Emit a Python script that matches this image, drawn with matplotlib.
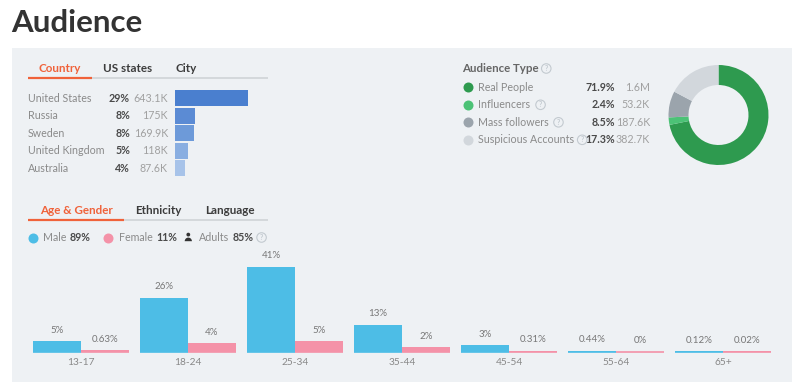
import matplotlib
matplotlib.use("Agg")
import matplotlib.pyplot as plt
from matplotlib.patches import Rectangle, Circle, Wedge
from matplotlib.transforms import blended_transform_factory

plt.rcParams['font.family'] = ['Lato', 'DejaVu Sans']

# ---------------- data ----------------
countries = ["United States", "Russia", "Sweden", "United Kingdom", "Australia"]
country_pct = ["29%", "8%", "8%", "5%", "4%"]
country_counts = [643.1, 175.0, 169.9, 118.0, 87.6]  # thousands
country_count_labels = ["643.1K", "175K", "169.9K", "118K", "87.6K"]

audience_types = ["Real People", "Influencers", "Mass followers", "Suspicious Accounts"]
audience_pct = [71.9, 2.4, 8.5, 17.3]
audience_counts = ["1.6M", "53.2K", "187.6K", "382.7K"]

age_groups = ["13-17", "18-24", "25-34", "35-44", "45-54", "55-64", "65+"]
male_pct = [5, 26, 41, 13, 3, 0.44, 0.12]
female_pct = [0.63, 4, 5, 2, 0.31, 0, 0.02]

country_tabs = ["Country", "US states", "City"]
age_tabs = ["Age & Gender", "Ethnicity", "Language"]

# ---------------- style ----------------
W, H = 800, 387
PANEL = "#eef1f4"
ORANGE = "#f0623a"
DARK = "#4a4a4a"
GREY = "#8a8a8a"
LIGHT = "#a0a0a0"
country_colors = ["#4a7fcf", "#5b8bd4", "#6d9ad9", "#89aee1", "#a7c3e9"]
aud_colors = ["#2e9a4f", "#4cc276", "#9ba4ac", "#d2d7dc"]
MALE = "#4dbde6"
FEMALE = "#f492a8"
QCOL = "#c3cad0"
FS = 7.7

fig = plt.figure(figsize=(W / 100, H / 100), dpi=100)
fig.patch.set_facecolor("white")


def rect(x0, y0, w, h):
    return [x0 / W, 1 - (y0 + h) / H, w / W, h / H]


bg = fig.add_axes([0, 0, 1, 1])
bg.set_xlim(0, W)
bg.set_ylim(H, 0)
bg.axis("off")

# title + panel
bg.text(11, 23, "Audience", fontsize=22.5, fontweight="bold", color="#333333",
        va="center", ha="left")
bg.add_patch(Rectangle((12, 48), 780, 334, facecolor=PANEL, edgecolor="none"))


def after(prev, s, gap=2.5, **kw):
    """Place text s right after text artist prev."""
    return bg.annotate(s, xy=(1, 0.5), xycoords=prev, xytext=(gap, 0),
                       textcoords="offset points", ha="left", va="center", **kw)


def qmark_after(prev, gap=6.5):
    bg.annotate("?", xy=(1, 0.5), xycoords=prev, xytext=(gap, 0),
                textcoords="offset points", ha="center", va="center",
                fontsize=5, color=QCOL, fontweight="bold",
                bbox=dict(boxstyle="circle,pad=0.18", fc="none", ec=QCOL, lw=0.8))


def tabs(labels, centers, y, orange_end):
    for i, (lab, cx) in enumerate(zip(labels, centers)):
        bg.text(cx, y, lab, fontsize=8.4, fontweight="bold",
                color=ORANGE if i == 0 else "#3c3c3c", ha="center", va="center")
    bg.plot([28, 268], [y + 9.5, y + 9.5], color="#cfd3d7", lw=1.2, solid_capstyle="butt")
    bg.plot([28, orange_end], [y + 9.5, y + 9.5], color=ORANGE, lw=1.6, solid_capstyle="butt")


# ---------------- country block ----------------
tabs(country_tabs, [60, 128, 186], 68.3, 92)

cax = fig.add_axes(rect(174.5, 89.5, 73.8, 87.5))
cax.set_facecolor("none")
rows = list(range(len(countries)))
cax.barh(rows, country_counts, height=0.89, color=country_colors)
cax.set_xlim(0, max(country_counts))
cax.set_ylim(len(countries) - 0.5, -0.5)
cax.axis("off")

tr = blended_transform_factory(bg.transData, cax.transData)
for i in rows:
    bg.text(28, i, countries[i], transform=tr, fontsize=FS, color=GREY,
            ha="left", va="center")
    bg.text(130, i, country_pct[i], transform=tr, fontsize=FS, color=DARK,
            fontweight="bold", ha="right", va="center")
    bg.text(168, i, country_count_labels[i], transform=tr, fontsize=FS,
            color=LIGHT, ha="right", va="center")

# ---------------- audience type ----------------
th = bg.text(462, 68.5, "Audience Type", fontsize=8.3, fontweight="bold",
             color="#666666", ha="left", va="center")
qmark_after(th, gap=5.5)
ty = [87.3, 104.8, 122.3, 139.8]
qgaps = [None, 7.5, 7.0, 5.8]
for i, lab in enumerate(audience_types):
    bg.plot([467.5], [ty[i]], marker="o", ms=7.2, color=aud_colors[i], mec="none")
    t = bg.text(478, ty[i], lab, fontsize=FS, color=GREY, ha="left", va="center")
    if qgaps[i] is not None:
        qmark_after(t, gap=qgaps[i])
    bg.text(615, ty[i], f"{audience_pct[i]:g}%", fontsize=FS, color=DARK,
            fontweight="bold", ha="right", va="center")
    bg.text(650, ty[i], audience_counts[i], fontsize=FS, color=LIGHT,
            ha="right", va="center")

dax = fig.add_axes(rect(668.5, 65, 100, 100))
dax.pie(audience_pct, colors=aud_colors, startangle=90, counterclock=False,
        radius=1, wedgeprops=dict(width=0.4, edgecolor="none"))
dax.set_xlim(-1, 1)
dax.set_ylim(-1, 1)
dax.set_aspect("equal")
dax.axis("off")

# ---------------- age & gender ----------------
tabs(age_tabs, [76, 158.7, 230], 210, 124)

ly = 237.5
bg.plot([33.3], [ly], marker="o", ms=7.2, color=MALE, mec="none")
t = bg.text(43, ly, "Male", fontsize=FS, color=GREY, ha="left", va="center")
after(t, "89%", fontsize=FS, color=DARK, fontweight="bold")
bg.plot([108.3], [ly], marker="o", ms=7.2, color=FEMALE, mec="none")
t = bg.text(119.5, ly, "Female", fontsize=FS, color=GREY, ha="left", va="center")
after(t, "11%", fontsize=FS, color=DARK, fontweight="bold")
# person icon
bg.add_patch(Circle((188.3, 234.6), 1.9, color="#333333", lw=0))
bg.add_patch(Wedge((188.3, 241.2), 3.6, 180, 360, color="#333333", lw=0))
t = bg.text(198.5, ly, "Adults", fontsize=FS, color=GREY, ha="left", va="center")
t2 = after(t, "85%", fontsize=FS, color=DARK, fontweight="bold")
qmark_after(t2, gap=6)

ymax = 45
base_y = 351.5
px_per_unit = 85 / 41
ah = ymax * px_per_unit
aax = fig.add_axes(rect(27.5, base_y - ah, 749, ah))
aax.set_facecolor("none")
x = list(range(len(age_groups)))
bw = 48 / 107
xm = [v - bw / 2 for v in x]
xf = [v + bw / 2 for v in x]
aax.bar(xm, male_pct, width=bw, color=MALE)
aax.bar(xf, female_pct, width=bw, color=FEMALE)
aax.hlines([0] * len(x), [v - bw for v in x], x, colors=MALE, lw=1.2, clip_on=False)
aax.hlines([0] * len(x), x, [v + bw for v in x], colors=FEMALE, lw=1.2, clip_on=False)
aax.set_xlim(-0.5, len(age_groups) - 0.5)
aax.set_ylim(0, ymax)
aax.axis("off")
for xi, v in zip(xm, male_pct):
    aax.annotate(f"{v:g}%", (xi, v), xytext=(0, 8), textcoords="offset points",
                 ha="center", va="center", fontsize=7, color="#777777")
for xi, v in zip(xf, female_pct):
    aax.annotate(f"{v:g}%", (xi, v), xytext=(0, 8), textcoords="offset points",
                 ha="center", va="center", fontsize=7, color="#777777")
for xi, lab in zip(x, age_groups):
    aax.annotate(lab, (xi, 0), xytext=(0, -8), textcoords="offset points",
                 ha="center", va="center", fontsize=7.3, color="#888888")

fig.savefig("out.png", dpi=100, facecolor="white")
